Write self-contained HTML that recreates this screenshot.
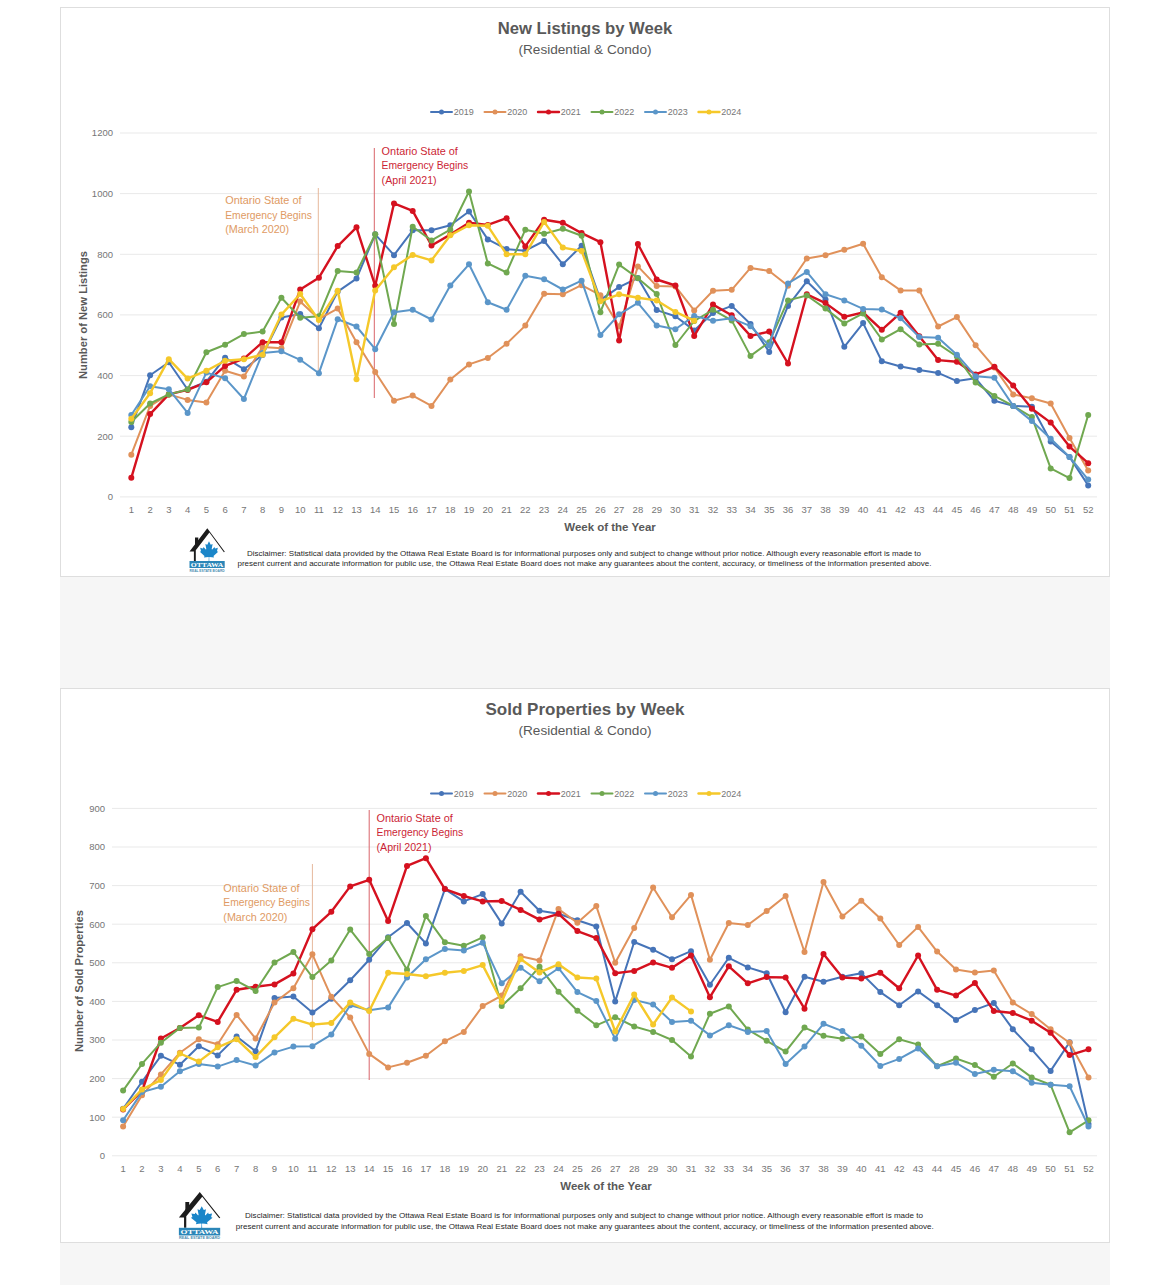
<!DOCTYPE html>
<html><head><meta charset="utf-8"><title>Weekly Charts</title>
<style>
html,body{margin:0;padding:0;background:#fff;}
body{width:1170px;height:1285px;overflow:hidden;font-family:"Liberation Sans",sans-serif;}
svg{display:block;font-family:"Liberation Sans",sans-serif;}
</style></head><body>
<svg width="1170" height="1285" viewBox="0 0 1170 1285">
<rect x="0" y="0" width="1170" height="1285" fill="#ffffff"/>
<rect x="60" y="0" width="1050" height="1285" fill="#f6f6f6"/>
<rect x="60" y="0" width="1050" height="7" fill="#ffffff"/>
<rect x="60.5" y="7.5" width="1049" height="569" fill="#ffffff" stroke="#dedede" stroke-width="1"/>
<rect x="60.5" y="688.5" width="1049" height="554" fill="#ffffff" stroke="#dedede" stroke-width="1"/>
<line x1="120" x2="1097" y1="496.9" y2="496.9" stroke="#e9e9e9" stroke-width="1"/>
<line x1="120" x2="1097" y1="436.2" y2="436.2" stroke="#e9e9e9" stroke-width="1"/>
<line x1="120" x2="1097" y1="375.6" y2="375.6" stroke="#e9e9e9" stroke-width="1"/>
<line x1="120" x2="1097" y1="314.9" y2="314.9" stroke="#e9e9e9" stroke-width="1"/>
<line x1="120" x2="1097" y1="254.3" y2="254.3" stroke="#e9e9e9" stroke-width="1"/>
<line x1="120" x2="1097" y1="193.6" y2="193.6" stroke="#e9e9e9" stroke-width="1"/>
<line x1="120" x2="1097" y1="133.0" y2="133.0" stroke="#e9e9e9" stroke-width="1"/>
<text x="585" y="34" font-size="17" font-weight="bold" fill="#595959" text-anchor="middle" textLength="174.5" lengthAdjust="spacingAndGlyphs">New Listings by Week</text>
<text x="585" y="53.5" font-size="13" fill="#595959" text-anchor="middle" textLength="133" lengthAdjust="spacingAndGlyphs">(Residential &amp; Condo)</text>
<line x1="431" x2="452" y1="112" y2="112" stroke="#4674b8" stroke-width="2.0" stroke-linecap="round"/>
<circle cx="441.5" cy="112" r="2.5" fill="#4674b8"/>
<text x="453.8" y="115.3" font-size="9.8" fill="#767676" textLength="20" lengthAdjust="spacingAndGlyphs">2019</text>
<line x1="484.5" x2="505.5" y1="112" y2="112" stroke="#e0915a" stroke-width="2.0" stroke-linecap="round"/>
<circle cx="495.0" cy="112" r="2.5" fill="#e0915a"/>
<text x="507.3" y="115.3" font-size="9.8" fill="#767676" textLength="20" lengthAdjust="spacingAndGlyphs">2020</text>
<line x1="538" x2="559" y1="112" y2="112" stroke="#d5111f" stroke-width="2.4" stroke-linecap="round"/>
<circle cx="548.5" cy="112" r="2.5" fill="#d5111f"/>
<text x="560.8" y="115.3" font-size="9.8" fill="#767676" textLength="20" lengthAdjust="spacingAndGlyphs">2021</text>
<line x1="591.5" x2="612.5" y1="112" y2="112" stroke="#70a850" stroke-width="2.0" stroke-linecap="round"/>
<circle cx="602.0" cy="112" r="2.5" fill="#70a850"/>
<text x="614.3" y="115.3" font-size="9.8" fill="#767676" textLength="20" lengthAdjust="spacingAndGlyphs">2022</text>
<line x1="645" x2="666" y1="112" y2="112" stroke="#5b96c9" stroke-width="2.0" stroke-linecap="round"/>
<circle cx="655.5" cy="112" r="2.5" fill="#5b96c9"/>
<text x="667.8" y="115.3" font-size="9.8" fill="#767676" textLength="20" lengthAdjust="spacingAndGlyphs">2023</text>
<line x1="698.5" x2="719.5" y1="112" y2="112" stroke="#f5c82a" stroke-width="2.4" stroke-linecap="round"/>
<circle cx="709.0" cy="112" r="2.5" fill="#f5c82a"/>
<text x="721.3" y="115.3" font-size="9.8" fill="#767676" textLength="20" lengthAdjust="spacingAndGlyphs">2024</text>
<text x="113" y="500.2" font-size="9.5" fill="#767676" text-anchor="end">0</text>
<text x="113" y="439.6" font-size="9.5" fill="#767676" text-anchor="end">200</text>
<text x="113" y="378.9" font-size="9.5" fill="#767676" text-anchor="end">400</text>
<text x="113" y="318.2" font-size="9.5" fill="#767676" text-anchor="end">600</text>
<text x="113" y="257.6" font-size="9.5" fill="#767676" text-anchor="end">800</text>
<text x="113" y="196.9" font-size="9.5" fill="#767676" text-anchor="end">1000</text>
<text x="113" y="136.3" font-size="9.5" fill="#767676" text-anchor="end">1200</text>
<text x="131.3" y="512.6" font-size="9.5" fill="#767676" text-anchor="middle">1</text>
<text x="150.1" y="512.6" font-size="9.5" fill="#767676" text-anchor="middle">2</text>
<text x="168.8" y="512.6" font-size="9.5" fill="#767676" text-anchor="middle">3</text>
<text x="187.6" y="512.6" font-size="9.5" fill="#767676" text-anchor="middle">4</text>
<text x="206.4" y="512.6" font-size="9.5" fill="#767676" text-anchor="middle">5</text>
<text x="225.1" y="512.6" font-size="9.5" fill="#767676" text-anchor="middle">6</text>
<text x="243.9" y="512.6" font-size="9.5" fill="#767676" text-anchor="middle">7</text>
<text x="262.6" y="512.6" font-size="9.5" fill="#767676" text-anchor="middle">8</text>
<text x="281.4" y="512.6" font-size="9.5" fill="#767676" text-anchor="middle">9</text>
<text x="300.2" y="512.6" font-size="9.5" fill="#767676" text-anchor="middle">10</text>
<text x="318.9" y="512.6" font-size="9.5" fill="#767676" text-anchor="middle">11</text>
<text x="337.7" y="512.6" font-size="9.5" fill="#767676" text-anchor="middle">12</text>
<text x="356.5" y="512.6" font-size="9.5" fill="#767676" text-anchor="middle">13</text>
<text x="375.2" y="512.6" font-size="9.5" fill="#767676" text-anchor="middle">14</text>
<text x="394.0" y="512.6" font-size="9.5" fill="#767676" text-anchor="middle">15</text>
<text x="412.7" y="512.6" font-size="9.5" fill="#767676" text-anchor="middle">16</text>
<text x="431.5" y="512.6" font-size="9.5" fill="#767676" text-anchor="middle">17</text>
<text x="450.3" y="512.6" font-size="9.5" fill="#767676" text-anchor="middle">18</text>
<text x="469.0" y="512.6" font-size="9.5" fill="#767676" text-anchor="middle">19</text>
<text x="487.8" y="512.6" font-size="9.5" fill="#767676" text-anchor="middle">20</text>
<text x="506.6" y="512.6" font-size="9.5" fill="#767676" text-anchor="middle">21</text>
<text x="525.3" y="512.6" font-size="9.5" fill="#767676" text-anchor="middle">22</text>
<text x="544.1" y="512.6" font-size="9.5" fill="#767676" text-anchor="middle">23</text>
<text x="562.8" y="512.6" font-size="9.5" fill="#767676" text-anchor="middle">24</text>
<text x="581.6" y="512.6" font-size="9.5" fill="#767676" text-anchor="middle">25</text>
<text x="600.4" y="512.6" font-size="9.5" fill="#767676" text-anchor="middle">26</text>
<text x="619.1" y="512.6" font-size="9.5" fill="#767676" text-anchor="middle">27</text>
<text x="637.9" y="512.6" font-size="9.5" fill="#767676" text-anchor="middle">28</text>
<text x="656.7" y="512.6" font-size="9.5" fill="#767676" text-anchor="middle">29</text>
<text x="675.4" y="512.6" font-size="9.5" fill="#767676" text-anchor="middle">30</text>
<text x="694.2" y="512.6" font-size="9.5" fill="#767676" text-anchor="middle">31</text>
<text x="713.0" y="512.6" font-size="9.5" fill="#767676" text-anchor="middle">32</text>
<text x="731.7" y="512.6" font-size="9.5" fill="#767676" text-anchor="middle">33</text>
<text x="750.5" y="512.6" font-size="9.5" fill="#767676" text-anchor="middle">34</text>
<text x="769.2" y="512.6" font-size="9.5" fill="#767676" text-anchor="middle">35</text>
<text x="788.0" y="512.6" font-size="9.5" fill="#767676" text-anchor="middle">36</text>
<text x="806.8" y="512.6" font-size="9.5" fill="#767676" text-anchor="middle">37</text>
<text x="825.5" y="512.6" font-size="9.5" fill="#767676" text-anchor="middle">38</text>
<text x="844.3" y="512.6" font-size="9.5" fill="#767676" text-anchor="middle">39</text>
<text x="863.1" y="512.6" font-size="9.5" fill="#767676" text-anchor="middle">40</text>
<text x="881.8" y="512.6" font-size="9.5" fill="#767676" text-anchor="middle">41</text>
<text x="900.6" y="512.6" font-size="9.5" fill="#767676" text-anchor="middle">42</text>
<text x="919.3" y="512.6" font-size="9.5" fill="#767676" text-anchor="middle">43</text>
<text x="938.1" y="512.6" font-size="9.5" fill="#767676" text-anchor="middle">44</text>
<text x="956.9" y="512.6" font-size="9.5" fill="#767676" text-anchor="middle">45</text>
<text x="975.6" y="512.6" font-size="9.5" fill="#767676" text-anchor="middle">46</text>
<text x="994.4" y="512.6" font-size="9.5" fill="#767676" text-anchor="middle">47</text>
<text x="1013.2" y="512.6" font-size="9.5" fill="#767676" text-anchor="middle">48</text>
<text x="1031.9" y="512.6" font-size="9.5" fill="#767676" text-anchor="middle">49</text>
<text x="1050.7" y="512.6" font-size="9.5" fill="#767676" text-anchor="middle">50</text>
<text x="1069.5" y="512.6" font-size="9.5" fill="#767676" text-anchor="middle">51</text>
<text x="1088.2" y="512.6" font-size="9.5" fill="#767676" text-anchor="middle">52</text>
<text x="610" y="530.6" font-size="11.5" font-weight="bold" fill="#595959" text-anchor="middle" textLength="91.5" lengthAdjust="spacingAndGlyphs">Week of the Year</text>
<text transform="translate(86.5,315) rotate(-90)" font-size="11.5" font-weight="bold" fill="#595959" text-anchor="middle" textLength="128" lengthAdjust="spacingAndGlyphs">Number of New Listings</text>
<line x1="318.3" x2="318.3" y1="188" y2="371" stroke="#e6b89c" stroke-width="1"/>
<line x1="374.3" x2="374.3" y1="148" y2="398" stroke="#d9646a" stroke-width="1"/>
<text x="225.2" y="204.0" font-size="11" fill="#e09a63" textLength="76.3" lengthAdjust="spacingAndGlyphs">Ontario State of</text>
<text x="225.2" y="218.5" font-size="11" fill="#e09a63" textLength="86.6" lengthAdjust="spacingAndGlyphs">Emergency Begins</text>
<text x="225.2" y="233.0" font-size="11" fill="#e09a63" textLength="64" lengthAdjust="spacingAndGlyphs">(March 2020)</text>
<text x="381.6" y="154.5" font-size="11" fill="#cc1f36" textLength="76.3" lengthAdjust="spacingAndGlyphs">Ontario State of</text>
<text x="381.6" y="169.0" font-size="11" fill="#cc1f36" textLength="86.6" lengthAdjust="spacingAndGlyphs">Emergency Begins</text>
<text x="381.6" y="183.5" font-size="11" fill="#cc1f36" textLength="55" lengthAdjust="spacingAndGlyphs">(April 2021)</text>
<polyline fill="none" stroke="#4674b8" stroke-width="2.0" stroke-linejoin="round" stroke-linecap="round" points="131.3,427.2 150.1,375.3 168.8,362.3 187.6,389.5 206.4,381.7 225.1,357.7 243.9,369.2 262.6,355.0 281.4,317.4 300.2,314.0 318.9,328.3 337.7,291.6 356.5,278.6 375.2,234.3 394.0,255.2 412.7,230.3 431.5,230.3 450.3,225.2 469.0,211.5 487.8,239.4 506.6,249.1 525.3,250.7 544.1,241.0 562.8,264.3 581.6,245.8 600.4,299.8 619.1,287.1 637.9,278.0 656.7,310.1 675.4,316.2 694.2,330.4 713.0,313.1 731.7,305.9 750.5,324.0 769.2,351.9 788.0,305.9 806.8,281.3 825.5,299.5 844.3,346.8 863.1,323.1 881.8,361.3 900.6,366.5 919.3,370.1 938.1,372.9 956.9,381.1 975.6,378.3 994.4,400.8 1013.2,405.9 1031.9,406.8 1050.7,441.4 1069.5,456.9 1088.2,485.4"/>
<g fill="#4674b8"><circle cx="131.3" cy="427.2" r="3"/><circle cx="150.1" cy="375.3" r="3"/><circle cx="168.8" cy="362.3" r="3"/><circle cx="187.6" cy="389.5" r="3"/><circle cx="206.4" cy="381.7" r="3"/><circle cx="225.1" cy="357.7" r="3"/><circle cx="243.9" cy="369.2" r="3"/><circle cx="262.6" cy="355.0" r="3"/><circle cx="281.4" cy="317.4" r="3"/><circle cx="300.2" cy="314.0" r="3"/><circle cx="318.9" cy="328.3" r="3"/><circle cx="337.7" cy="291.6" r="3"/><circle cx="356.5" cy="278.6" r="3"/><circle cx="375.2" cy="234.3" r="3"/><circle cx="394.0" cy="255.2" r="3"/><circle cx="412.7" cy="230.3" r="3"/><circle cx="431.5" cy="230.3" r="3"/><circle cx="450.3" cy="225.2" r="3"/><circle cx="469.0" cy="211.5" r="3"/><circle cx="487.8" cy="239.4" r="3"/><circle cx="506.6" cy="249.1" r="3"/><circle cx="525.3" cy="250.7" r="3"/><circle cx="544.1" cy="241.0" r="3"/><circle cx="562.8" cy="264.3" r="3"/><circle cx="581.6" cy="245.8" r="3"/><circle cx="600.4" cy="299.8" r="3"/><circle cx="619.1" cy="287.1" r="3"/><circle cx="637.9" cy="278.0" r="3"/><circle cx="656.7" cy="310.1" r="3"/><circle cx="675.4" cy="316.2" r="3"/><circle cx="694.2" cy="330.4" r="3"/><circle cx="713.0" cy="313.1" r="3"/><circle cx="731.7" cy="305.9" r="3"/><circle cx="750.5" cy="324.0" r="3"/><circle cx="769.2" cy="351.9" r="3"/><circle cx="788.0" cy="305.9" r="3"/><circle cx="806.8" cy="281.3" r="3"/><circle cx="825.5" cy="299.5" r="3"/><circle cx="844.3" cy="346.8" r="3"/><circle cx="863.1" cy="323.1" r="3"/><circle cx="881.8" cy="361.3" r="3"/><circle cx="900.6" cy="366.5" r="3"/><circle cx="919.3" cy="370.1" r="3"/><circle cx="938.1" cy="372.9" r="3"/><circle cx="956.9" cy="381.1" r="3"/><circle cx="975.6" cy="378.3" r="3"/><circle cx="994.4" cy="400.8" r="3"/><circle cx="1013.2" cy="405.9" r="3"/><circle cx="1031.9" cy="406.8" r="3"/><circle cx="1050.7" cy="441.4" r="3"/><circle cx="1069.5" cy="456.9" r="3"/><circle cx="1088.2" cy="485.4" r="3"/></g>
<polyline fill="none" stroke="#e0915a" stroke-width="2.0" stroke-linejoin="round" stroke-linecap="round" points="131.3,454.7 150.1,405.9 168.8,394.4 187.6,399.9 206.4,402.6 225.1,370.7 243.9,376.5 262.6,347.1 281.4,348.3 300.2,301.6 318.9,318.9 337.7,308.6 356.5,342.2 375.2,372.0 394.0,400.8 412.7,395.6 431.5,405.9 450.3,379.5 469.0,364.4 487.8,358.0 506.6,343.8 525.3,325.6 544.1,293.7 562.8,294.3 581.6,285.2 600.4,295.2 619.1,326.5 637.9,266.4 656.7,286.1 675.4,286.4 694.2,310.4 713.0,290.7 731.7,289.8 750.5,267.9 769.2,271.0 788.0,285.8 806.8,258.5 825.5,255.2 844.3,249.8 863.1,243.7 881.8,277.3 900.6,290.4 919.3,290.4 938.1,326.5 956.9,317.1 975.6,345.3 994.4,367.4 1013.2,394.4 1031.9,398.3 1050.7,403.5 1069.5,438.1 1088.2,470.5"/>
<g fill="#e0915a"><circle cx="131.3" cy="454.7" r="3"/><circle cx="150.1" cy="405.9" r="3"/><circle cx="168.8" cy="394.4" r="3"/><circle cx="187.6" cy="399.9" r="3"/><circle cx="206.4" cy="402.6" r="3"/><circle cx="225.1" cy="370.7" r="3"/><circle cx="243.9" cy="376.5" r="3"/><circle cx="262.6" cy="347.1" r="3"/><circle cx="281.4" cy="348.3" r="3"/><circle cx="300.2" cy="301.6" r="3"/><circle cx="318.9" cy="318.9" r="3"/><circle cx="337.7" cy="308.6" r="3"/><circle cx="356.5" cy="342.2" r="3"/><circle cx="375.2" cy="372.0" r="3"/><circle cx="394.0" cy="400.8" r="3"/><circle cx="412.7" cy="395.6" r="3"/><circle cx="431.5" cy="405.9" r="3"/><circle cx="450.3" cy="379.5" r="3"/><circle cx="469.0" cy="364.4" r="3"/><circle cx="487.8" cy="358.0" r="3"/><circle cx="506.6" cy="343.8" r="3"/><circle cx="525.3" cy="325.6" r="3"/><circle cx="544.1" cy="293.7" r="3"/><circle cx="562.8" cy="294.3" r="3"/><circle cx="581.6" cy="285.2" r="3"/><circle cx="600.4" cy="295.2" r="3"/><circle cx="619.1" cy="326.5" r="3"/><circle cx="637.9" cy="266.4" r="3"/><circle cx="656.7" cy="286.1" r="3"/><circle cx="675.4" cy="286.4" r="3"/><circle cx="694.2" cy="310.4" r="3"/><circle cx="713.0" cy="290.7" r="3"/><circle cx="731.7" cy="289.8" r="3"/><circle cx="750.5" cy="267.9" r="3"/><circle cx="769.2" cy="271.0" r="3"/><circle cx="788.0" cy="285.8" r="3"/><circle cx="806.8" cy="258.5" r="3"/><circle cx="825.5" cy="255.2" r="3"/><circle cx="844.3" cy="249.8" r="3"/><circle cx="863.1" cy="243.7" r="3"/><circle cx="881.8" cy="277.3" r="3"/><circle cx="900.6" cy="290.4" r="3"/><circle cx="919.3" cy="290.4" r="3"/><circle cx="938.1" cy="326.5" r="3"/><circle cx="956.9" cy="317.1" r="3"/><circle cx="975.6" cy="345.3" r="3"/><circle cx="994.4" cy="367.4" r="3"/><circle cx="1013.2" cy="394.4" r="3"/><circle cx="1031.9" cy="398.3" r="3"/><circle cx="1050.7" cy="403.5" r="3"/><circle cx="1069.5" cy="438.1" r="3"/><circle cx="1088.2" cy="470.5" r="3"/></g>
<polyline fill="none" stroke="#d5111f" stroke-width="2.4" stroke-linejoin="round" stroke-linecap="round" points="131.3,477.8 150.1,414.1 168.8,394.4 187.6,389.9 206.4,382.3 225.1,365.9 243.9,358.6 262.6,342.2 281.4,342.2 300.2,289.5 318.9,277.7 337.7,246.1 356.5,227.3 375.2,285.8 394.0,203.4 412.7,210.9 431.5,245.5 450.3,234.6 469.0,222.8 487.8,224.9 506.6,218.2 525.3,246.4 544.1,219.7 562.8,222.8 581.6,233.1 600.4,242.2 619.1,340.4 637.9,244.0 656.7,279.5 675.4,285.5 694.2,335.9 713.0,304.6 731.7,315.3 750.5,335.9 769.2,331.6 788.0,363.5 806.8,294.3 825.5,303.1 844.3,316.8 863.1,312.5 881.8,329.8 900.6,312.8 919.3,336.2 938.1,360.1 956.9,361.7 975.6,374.4 994.4,366.8 1013.2,385.6 1031.9,408.7 1050.7,422.6 1069.5,446.6 1088.2,463.2"/>
<g fill="#d5111f"><circle cx="131.3" cy="477.8" r="3"/><circle cx="150.1" cy="414.1" r="3"/><circle cx="168.8" cy="394.4" r="3"/><circle cx="187.6" cy="389.9" r="3"/><circle cx="206.4" cy="382.3" r="3"/><circle cx="225.1" cy="365.9" r="3"/><circle cx="243.9" cy="358.6" r="3"/><circle cx="262.6" cy="342.2" r="3"/><circle cx="281.4" cy="342.2" r="3"/><circle cx="300.2" cy="289.5" r="3"/><circle cx="318.9" cy="277.7" r="3"/><circle cx="337.7" cy="246.1" r="3"/><circle cx="356.5" cy="227.3" r="3"/><circle cx="375.2" cy="285.8" r="3"/><circle cx="394.0" cy="203.4" r="3"/><circle cx="412.7" cy="210.9" r="3"/><circle cx="431.5" cy="245.5" r="3"/><circle cx="450.3" cy="234.6" r="3"/><circle cx="469.0" cy="222.8" r="3"/><circle cx="487.8" cy="224.9" r="3"/><circle cx="506.6" cy="218.2" r="3"/><circle cx="525.3" cy="246.4" r="3"/><circle cx="544.1" cy="219.7" r="3"/><circle cx="562.8" cy="222.8" r="3"/><circle cx="581.6" cy="233.1" r="3"/><circle cx="600.4" cy="242.2" r="3"/><circle cx="619.1" cy="340.4" r="3"/><circle cx="637.9" cy="244.0" r="3"/><circle cx="656.7" cy="279.5" r="3"/><circle cx="675.4" cy="285.5" r="3"/><circle cx="694.2" cy="335.9" r="3"/><circle cx="713.0" cy="304.6" r="3"/><circle cx="731.7" cy="315.3" r="3"/><circle cx="750.5" cy="335.9" r="3"/><circle cx="769.2" cy="331.6" r="3"/><circle cx="788.0" cy="363.5" r="3"/><circle cx="806.8" cy="294.3" r="3"/><circle cx="825.5" cy="303.1" r="3"/><circle cx="844.3" cy="316.8" r="3"/><circle cx="863.1" cy="312.5" r="3"/><circle cx="881.8" cy="329.8" r="3"/><circle cx="900.6" cy="312.8" r="3"/><circle cx="919.3" cy="336.2" r="3"/><circle cx="938.1" cy="360.1" r="3"/><circle cx="956.9" cy="361.7" r="3"/><circle cx="975.6" cy="374.4" r="3"/><circle cx="994.4" cy="366.8" r="3"/><circle cx="1013.2" cy="385.6" r="3"/><circle cx="1031.9" cy="408.7" r="3"/><circle cx="1050.7" cy="422.6" r="3"/><circle cx="1069.5" cy="446.6" r="3"/><circle cx="1088.2" cy="463.2" r="3"/></g>
<polyline fill="none" stroke="#70a850" stroke-width="2.0" stroke-linejoin="round" stroke-linecap="round" points="131.3,422.0 150.1,403.5 168.8,394.4 187.6,389.5 206.4,352.2 225.1,344.7 243.9,334.1 262.6,331.6 281.4,297.7 300.2,317.7 318.9,316.2 337.7,271.0 356.5,272.5 375.2,234.3 394.0,324.0 412.7,226.7 431.5,240.4 450.3,229.7 469.0,191.5 487.8,263.4 506.6,272.5 525.3,229.7 544.1,233.7 562.8,228.8 581.6,235.8 600.4,312.2 619.1,264.6 637.9,278.3 656.7,294.0 675.4,345.0 694.2,321.0 713.0,309.8 731.7,320.4 750.5,355.9 769.2,342.2 788.0,300.4 806.8,295.5 825.5,308.6 844.3,323.4 863.1,313.4 881.8,339.5 900.6,329.2 919.3,344.4 938.1,343.8 956.9,356.5 975.6,382.6 994.4,395.9 1013.2,405.9 1031.9,417.1 1050.7,468.4 1069.5,478.1 1088.2,415.0"/>
<g fill="#70a850"><circle cx="131.3" cy="422.0" r="3"/><circle cx="150.1" cy="403.5" r="3"/><circle cx="168.8" cy="394.4" r="3"/><circle cx="187.6" cy="389.5" r="3"/><circle cx="206.4" cy="352.2" r="3"/><circle cx="225.1" cy="344.7" r="3"/><circle cx="243.9" cy="334.1" r="3"/><circle cx="262.6" cy="331.6" r="3"/><circle cx="281.4" cy="297.7" r="3"/><circle cx="300.2" cy="317.7" r="3"/><circle cx="318.9" cy="316.2" r="3"/><circle cx="337.7" cy="271.0" r="3"/><circle cx="356.5" cy="272.5" r="3"/><circle cx="375.2" cy="234.3" r="3"/><circle cx="394.0" cy="324.0" r="3"/><circle cx="412.7" cy="226.7" r="3"/><circle cx="431.5" cy="240.4" r="3"/><circle cx="450.3" cy="229.7" r="3"/><circle cx="469.0" cy="191.5" r="3"/><circle cx="487.8" cy="263.4" r="3"/><circle cx="506.6" cy="272.5" r="3"/><circle cx="525.3" cy="229.7" r="3"/><circle cx="544.1" cy="233.7" r="3"/><circle cx="562.8" cy="228.8" r="3"/><circle cx="581.6" cy="235.8" r="3"/><circle cx="600.4" cy="312.2" r="3"/><circle cx="619.1" cy="264.6" r="3"/><circle cx="637.9" cy="278.3" r="3"/><circle cx="656.7" cy="294.0" r="3"/><circle cx="675.4" cy="345.0" r="3"/><circle cx="694.2" cy="321.0" r="3"/><circle cx="713.0" cy="309.8" r="3"/><circle cx="731.7" cy="320.4" r="3"/><circle cx="750.5" cy="355.9" r="3"/><circle cx="769.2" cy="342.2" r="3"/><circle cx="788.0" cy="300.4" r="3"/><circle cx="806.8" cy="295.5" r="3"/><circle cx="825.5" cy="308.6" r="3"/><circle cx="844.3" cy="323.4" r="3"/><circle cx="863.1" cy="313.4" r="3"/><circle cx="881.8" cy="339.5" r="3"/><circle cx="900.6" cy="329.2" r="3"/><circle cx="919.3" cy="344.4" r="3"/><circle cx="938.1" cy="343.8" r="3"/><circle cx="956.9" cy="356.5" r="3"/><circle cx="975.6" cy="382.6" r="3"/><circle cx="994.4" cy="395.9" r="3"/><circle cx="1013.2" cy="405.9" r="3"/><circle cx="1031.9" cy="417.1" r="3"/><circle cx="1050.7" cy="468.4" r="3"/><circle cx="1069.5" cy="478.1" r="3"/><circle cx="1088.2" cy="415.0" r="3"/></g>
<polyline fill="none" stroke="#5b96c9" stroke-width="2.0" stroke-linejoin="round" stroke-linecap="round" points="131.3,415.0 150.1,386.2 168.8,389.2 187.6,412.9 206.4,372.6 225.1,378.3 243.9,399.0 262.6,352.9 281.4,351.3 300.2,359.8 318.9,373.2 337.7,319.2 356.5,326.5 375.2,349.2 394.0,312.2 412.7,309.8 431.5,319.5 450.3,285.5 469.0,264.3 487.8,302.2 506.6,309.8 525.3,275.8 544.1,279.2 562.8,289.5 581.6,280.7 600.4,335.0 619.1,314.3 637.9,302.8 656.7,325.6 675.4,329.2 694.2,315.9 713.0,320.7 731.7,318.3 750.5,326.2 769.2,345.6 788.0,283.4 806.8,271.9 825.5,294.3 844.3,300.4 863.1,308.9 881.8,309.5 900.6,318.3 919.3,337.1 938.1,337.7 956.9,354.7 975.6,376.2 994.4,377.7 1013.2,405.9 1031.9,421.1 1050.7,438.7 1069.5,456.9 1088.2,479.6"/>
<g fill="#5b96c9"><circle cx="131.3" cy="415.0" r="3"/><circle cx="150.1" cy="386.2" r="3"/><circle cx="168.8" cy="389.2" r="3"/><circle cx="187.6" cy="412.9" r="3"/><circle cx="206.4" cy="372.6" r="3"/><circle cx="225.1" cy="378.3" r="3"/><circle cx="243.9" cy="399.0" r="3"/><circle cx="262.6" cy="352.9" r="3"/><circle cx="281.4" cy="351.3" r="3"/><circle cx="300.2" cy="359.8" r="3"/><circle cx="318.9" cy="373.2" r="3"/><circle cx="337.7" cy="319.2" r="3"/><circle cx="356.5" cy="326.5" r="3"/><circle cx="375.2" cy="349.2" r="3"/><circle cx="394.0" cy="312.2" r="3"/><circle cx="412.7" cy="309.8" r="3"/><circle cx="431.5" cy="319.5" r="3"/><circle cx="450.3" cy="285.5" r="3"/><circle cx="469.0" cy="264.3" r="3"/><circle cx="487.8" cy="302.2" r="3"/><circle cx="506.6" cy="309.8" r="3"/><circle cx="525.3" cy="275.8" r="3"/><circle cx="544.1" cy="279.2" r="3"/><circle cx="562.8" cy="289.5" r="3"/><circle cx="581.6" cy="280.7" r="3"/><circle cx="600.4" cy="335.0" r="3"/><circle cx="619.1" cy="314.3" r="3"/><circle cx="637.9" cy="302.8" r="3"/><circle cx="656.7" cy="325.6" r="3"/><circle cx="675.4" cy="329.2" r="3"/><circle cx="694.2" cy="315.9" r="3"/><circle cx="713.0" cy="320.7" r="3"/><circle cx="731.7" cy="318.3" r="3"/><circle cx="750.5" cy="326.2" r="3"/><circle cx="769.2" cy="345.6" r="3"/><circle cx="788.0" cy="283.4" r="3"/><circle cx="806.8" cy="271.9" r="3"/><circle cx="825.5" cy="294.3" r="3"/><circle cx="844.3" cy="300.4" r="3"/><circle cx="863.1" cy="308.9" r="3"/><circle cx="881.8" cy="309.5" r="3"/><circle cx="900.6" cy="318.3" r="3"/><circle cx="919.3" cy="337.1" r="3"/><circle cx="938.1" cy="337.7" r="3"/><circle cx="956.9" cy="354.7" r="3"/><circle cx="975.6" cy="376.2" r="3"/><circle cx="994.4" cy="377.7" r="3"/><circle cx="1013.2" cy="405.9" r="3"/><circle cx="1031.9" cy="421.1" r="3"/><circle cx="1050.7" cy="438.7" r="3"/><circle cx="1069.5" cy="456.9" r="3"/><circle cx="1088.2" cy="479.6" r="3"/></g>
<polyline fill="none" stroke="#f5c82a" stroke-width="2.4" stroke-linejoin="round" stroke-linecap="round" points="131.3,418.7 150.1,393.2 168.8,359.2 187.6,378.6 206.4,370.7 225.1,360.7 243.9,359.2 262.6,354.7 281.4,314.6 300.2,294.0 318.9,320.1 337.7,290.7 356.5,379.2 375.2,290.4 394.0,267.3 412.7,254.9 431.5,260.4 450.3,235.2 469.0,225.2 487.8,225.8 506.6,254.3 525.3,254.3 544.1,221.9 562.8,247.6 581.6,251.0 600.4,301.3 619.1,294.3 637.9,297.7 656.7,300.4 675.4,311.9 694.2,320.7"/>
<g fill="#f5c82a"><circle cx="131.3" cy="418.7" r="3"/><circle cx="150.1" cy="393.2" r="3"/><circle cx="168.8" cy="359.2" r="3"/><circle cx="187.6" cy="378.6" r="3"/><circle cx="206.4" cy="370.7" r="3"/><circle cx="225.1" cy="360.7" r="3"/><circle cx="243.9" cy="359.2" r="3"/><circle cx="262.6" cy="354.7" r="3"/><circle cx="281.4" cy="314.6" r="3"/><circle cx="300.2" cy="294.0" r="3"/><circle cx="318.9" cy="320.1" r="3"/><circle cx="337.7" cy="290.7" r="3"/><circle cx="356.5" cy="379.2" r="3"/><circle cx="375.2" cy="290.4" r="3"/><circle cx="394.0" cy="267.3" r="3"/><circle cx="412.7" cy="254.9" r="3"/><circle cx="431.5" cy="260.4" r="3"/><circle cx="450.3" cy="235.2" r="3"/><circle cx="469.0" cy="225.2" r="3"/><circle cx="487.8" cy="225.8" r="3"/><circle cx="506.6" cy="254.3" r="3"/><circle cx="525.3" cy="254.3" r="3"/><circle cx="544.1" cy="221.9" r="3"/><circle cx="562.8" cy="247.6" r="3"/><circle cx="581.6" cy="251.0" r="3"/><circle cx="600.4" cy="301.3" r="3"/><circle cx="619.1" cy="294.3" r="3"/><circle cx="637.9" cy="297.7" r="3"/><circle cx="656.7" cy="300.4" r="3"/><circle cx="675.4" cy="311.9" r="3"/><circle cx="694.2" cy="320.7" r="3"/></g>
<g transform="">
<path d="M207.3 528.2 L189.5 551.5 L193.9 551.5 L193.9 561 L195.8 561 L195.8 550.3 L209.4 532.5 L223.9 552.2 L224.8 551.8 Z" fill="#1c1c1c"/>
<path d="M195 537.4 H198.3 V544 L195 548 Z" fill="#1c1c1c"/>
<path transform="translate(185.38,539.7) scale(0.00492,0.0052)" d="M 4800,300 l -327,610 c -37,66 -104,60 -170,23 l -237,-123 177,937 c 37,171 -82,171 -141,97 l -413,-463 -67,235 c -8,31 -42,63 -93,56 l -523,-110 137,499 c 29,111 52,157 -30,186 l -186,88 900,731 c 36,28 54,78 41,123 l -79,258 c 310,-36 588,-89 898,-123 27,-3 73,42 73,74 l -41,947 h 151 l -24,-945 c 0,-32 42,-79 69,-76 310,34 588,87 898,123 l -79,-258 c -13,-45 5,-95 41,-123 l 900,-731 -186,-88 c -82,-29 -59,-75 -30,-186 l 137,-499 -523,110 c -51,7 -85,-25 -93,-56 l -67,-235 -413,463 c -59,74 -178,74 -141,-97 l 177,-937 -237,123 c -66,37 -133,43 -170,-23 z" fill="#1b86c9"/>
<rect x="189.5" y="561" width="35.2" height="7" fill="#2b86b8"/>
<text x="207.1" y="566.9" font-size="6.4" font-weight="bold" fill="#fff" text-anchor="middle" textLength="32.5" lengthAdjust="spacingAndGlyphs" font-family="Liberation Serif, serif">OTTAWA</text>
<text x="207.1" y="571.6" font-size="3" font-weight="bold" fill="#4b8cb0" text-anchor="middle" textLength="35" lengthAdjust="spacingAndGlyphs">REAL ESTATE BOARD</text>
</g>
<text x="584" y="555.6" font-size="7.8" fill="#262626" text-anchor="middle" textLength="674" lengthAdjust="spacingAndGlyphs">Disclaimer: Statistical data provided by the Ottawa Real Estate Board is for informational purposes only and subject to change without prior notice. Although every reasonable effort is made to</text>
<text x="584.5" y="566.2" font-size="7.8" fill="#262626" text-anchor="middle" textLength="694" lengthAdjust="spacingAndGlyphs">present current and accurate information for public use, the Ottawa Real Estate Board does not make any guarantees about the content, accuracy, or timeliness of the information presented above.</text>
<line x1="112" x2="1097" y1="1155.8" y2="1155.8" stroke="#e9e9e9" stroke-width="1"/>
<line x1="112" x2="1097" y1="1117.2" y2="1117.2" stroke="#e9e9e9" stroke-width="1"/>
<line x1="112" x2="1097" y1="1078.6" y2="1078.6" stroke="#e9e9e9" stroke-width="1"/>
<line x1="112" x2="1097" y1="1040.0" y2="1040.0" stroke="#e9e9e9" stroke-width="1"/>
<line x1="112" x2="1097" y1="1001.4" y2="1001.4" stroke="#e9e9e9" stroke-width="1"/>
<line x1="112" x2="1097" y1="962.8" y2="962.8" stroke="#e9e9e9" stroke-width="1"/>
<line x1="112" x2="1097" y1="924.2" y2="924.2" stroke="#e9e9e9" stroke-width="1"/>
<line x1="112" x2="1097" y1="885.6" y2="885.6" stroke="#e9e9e9" stroke-width="1"/>
<line x1="112" x2="1097" y1="847.0" y2="847.0" stroke="#e9e9e9" stroke-width="1"/>
<line x1="112" x2="1097" y1="808.4" y2="808.4" stroke="#e9e9e9" stroke-width="1"/>
<text x="585" y="715" font-size="17" font-weight="bold" fill="#595959" text-anchor="middle" textLength="199" lengthAdjust="spacingAndGlyphs">Sold Properties by Week</text>
<text x="585" y="734.5" font-size="13" fill="#595959" text-anchor="middle" textLength="133" lengthAdjust="spacingAndGlyphs">(Residential &amp; Condo)</text>
<line x1="431" x2="452" y1="793.5" y2="793.5" stroke="#4674b8" stroke-width="2.0" stroke-linecap="round"/>
<circle cx="441.5" cy="793.5" r="2.5" fill="#4674b8"/>
<text x="453.8" y="796.8" font-size="9.8" fill="#767676" textLength="20" lengthAdjust="spacingAndGlyphs">2019</text>
<line x1="484.5" x2="505.5" y1="793.5" y2="793.5" stroke="#e0915a" stroke-width="2.0" stroke-linecap="round"/>
<circle cx="495.0" cy="793.5" r="2.5" fill="#e0915a"/>
<text x="507.3" y="796.8" font-size="9.8" fill="#767676" textLength="20" lengthAdjust="spacingAndGlyphs">2020</text>
<line x1="538" x2="559" y1="793.5" y2="793.5" stroke="#d5111f" stroke-width="2.4" stroke-linecap="round"/>
<circle cx="548.5" cy="793.5" r="2.5" fill="#d5111f"/>
<text x="560.8" y="796.8" font-size="9.8" fill="#767676" textLength="20" lengthAdjust="spacingAndGlyphs">2021</text>
<line x1="591.5" x2="612.5" y1="793.5" y2="793.5" stroke="#70a850" stroke-width="2.0" stroke-linecap="round"/>
<circle cx="602.0" cy="793.5" r="2.5" fill="#70a850"/>
<text x="614.3" y="796.8" font-size="9.8" fill="#767676" textLength="20" lengthAdjust="spacingAndGlyphs">2022</text>
<line x1="645" x2="666" y1="793.5" y2="793.5" stroke="#5b96c9" stroke-width="2.0" stroke-linecap="round"/>
<circle cx="655.5" cy="793.5" r="2.5" fill="#5b96c9"/>
<text x="667.8" y="796.8" font-size="9.8" fill="#767676" textLength="20" lengthAdjust="spacingAndGlyphs">2023</text>
<line x1="698.5" x2="719.5" y1="793.5" y2="793.5" stroke="#f5c82a" stroke-width="2.4" stroke-linecap="round"/>
<circle cx="709.0" cy="793.5" r="2.5" fill="#f5c82a"/>
<text x="721.3" y="796.8" font-size="9.8" fill="#767676" textLength="20" lengthAdjust="spacingAndGlyphs">2024</text>
<text x="105" y="1159.1" font-size="9.5" fill="#767676" text-anchor="end">0</text>
<text x="105" y="1120.5" font-size="9.5" fill="#767676" text-anchor="end">100</text>
<text x="105" y="1081.9" font-size="9.5" fill="#767676" text-anchor="end">200</text>
<text x="105" y="1043.3" font-size="9.5" fill="#767676" text-anchor="end">300</text>
<text x="105" y="1004.7" font-size="9.5" fill="#767676" text-anchor="end">400</text>
<text x="105" y="966.1" font-size="9.5" fill="#767676" text-anchor="end">500</text>
<text x="105" y="927.5" font-size="9.5" fill="#767676" text-anchor="end">600</text>
<text x="105" y="888.9" font-size="9.5" fill="#767676" text-anchor="end">700</text>
<text x="105" y="850.3" font-size="9.5" fill="#767676" text-anchor="end">800</text>
<text x="105" y="811.7" font-size="9.5" fill="#767676" text-anchor="end">900</text>
<text x="123.1" y="1171.6" font-size="9.5" fill="#767676" text-anchor="middle">1</text>
<text x="142.0" y="1171.6" font-size="9.5" fill="#767676" text-anchor="middle">2</text>
<text x="160.9" y="1171.6" font-size="9.5" fill="#767676" text-anchor="middle">3</text>
<text x="179.9" y="1171.6" font-size="9.5" fill="#767676" text-anchor="middle">4</text>
<text x="198.8" y="1171.6" font-size="9.5" fill="#767676" text-anchor="middle">5</text>
<text x="217.7" y="1171.6" font-size="9.5" fill="#767676" text-anchor="middle">6</text>
<text x="236.6" y="1171.6" font-size="9.5" fill="#767676" text-anchor="middle">7</text>
<text x="255.6" y="1171.6" font-size="9.5" fill="#767676" text-anchor="middle">8</text>
<text x="274.5" y="1171.6" font-size="9.5" fill="#767676" text-anchor="middle">9</text>
<text x="293.4" y="1171.6" font-size="9.5" fill="#767676" text-anchor="middle">10</text>
<text x="312.4" y="1171.6" font-size="9.5" fill="#767676" text-anchor="middle">11</text>
<text x="331.3" y="1171.6" font-size="9.5" fill="#767676" text-anchor="middle">12</text>
<text x="350.2" y="1171.6" font-size="9.5" fill="#767676" text-anchor="middle">13</text>
<text x="369.2" y="1171.6" font-size="9.5" fill="#767676" text-anchor="middle">14</text>
<text x="388.1" y="1171.6" font-size="9.5" fill="#767676" text-anchor="middle">15</text>
<text x="407.0" y="1171.6" font-size="9.5" fill="#767676" text-anchor="middle">16</text>
<text x="425.9" y="1171.6" font-size="9.5" fill="#767676" text-anchor="middle">17</text>
<text x="444.9" y="1171.6" font-size="9.5" fill="#767676" text-anchor="middle">18</text>
<text x="463.8" y="1171.6" font-size="9.5" fill="#767676" text-anchor="middle">19</text>
<text x="482.7" y="1171.6" font-size="9.5" fill="#767676" text-anchor="middle">20</text>
<text x="501.7" y="1171.6" font-size="9.5" fill="#767676" text-anchor="middle">21</text>
<text x="520.6" y="1171.6" font-size="9.5" fill="#767676" text-anchor="middle">22</text>
<text x="539.5" y="1171.6" font-size="9.5" fill="#767676" text-anchor="middle">23</text>
<text x="558.5" y="1171.6" font-size="9.5" fill="#767676" text-anchor="middle">24</text>
<text x="577.4" y="1171.6" font-size="9.5" fill="#767676" text-anchor="middle">25</text>
<text x="596.3" y="1171.6" font-size="9.5" fill="#767676" text-anchor="middle">26</text>
<text x="615.2" y="1171.6" font-size="9.5" fill="#767676" text-anchor="middle">27</text>
<text x="634.2" y="1171.6" font-size="9.5" fill="#767676" text-anchor="middle">28</text>
<text x="653.1" y="1171.6" font-size="9.5" fill="#767676" text-anchor="middle">29</text>
<text x="672.0" y="1171.6" font-size="9.5" fill="#767676" text-anchor="middle">30</text>
<text x="691.0" y="1171.6" font-size="9.5" fill="#767676" text-anchor="middle">31</text>
<text x="709.9" y="1171.6" font-size="9.5" fill="#767676" text-anchor="middle">32</text>
<text x="728.8" y="1171.6" font-size="9.5" fill="#767676" text-anchor="middle">33</text>
<text x="747.8" y="1171.6" font-size="9.5" fill="#767676" text-anchor="middle">34</text>
<text x="766.7" y="1171.6" font-size="9.5" fill="#767676" text-anchor="middle">35</text>
<text x="785.6" y="1171.6" font-size="9.5" fill="#767676" text-anchor="middle">36</text>
<text x="804.5" y="1171.6" font-size="9.5" fill="#767676" text-anchor="middle">37</text>
<text x="823.5" y="1171.6" font-size="9.5" fill="#767676" text-anchor="middle">38</text>
<text x="842.4" y="1171.6" font-size="9.5" fill="#767676" text-anchor="middle">39</text>
<text x="861.3" y="1171.6" font-size="9.5" fill="#767676" text-anchor="middle">40</text>
<text x="880.3" y="1171.6" font-size="9.5" fill="#767676" text-anchor="middle">41</text>
<text x="899.2" y="1171.6" font-size="9.5" fill="#767676" text-anchor="middle">42</text>
<text x="918.1" y="1171.6" font-size="9.5" fill="#767676" text-anchor="middle">43</text>
<text x="937.1" y="1171.6" font-size="9.5" fill="#767676" text-anchor="middle">44</text>
<text x="956.0" y="1171.6" font-size="9.5" fill="#767676" text-anchor="middle">45</text>
<text x="974.9" y="1171.6" font-size="9.5" fill="#767676" text-anchor="middle">46</text>
<text x="993.8" y="1171.6" font-size="9.5" fill="#767676" text-anchor="middle">47</text>
<text x="1012.8" y="1171.6" font-size="9.5" fill="#767676" text-anchor="middle">48</text>
<text x="1031.7" y="1171.6" font-size="9.5" fill="#767676" text-anchor="middle">49</text>
<text x="1050.6" y="1171.6" font-size="9.5" fill="#767676" text-anchor="middle">50</text>
<text x="1069.6" y="1171.6" font-size="9.5" fill="#767676" text-anchor="middle">51</text>
<text x="1088.5" y="1171.6" font-size="9.5" fill="#767676" text-anchor="middle">52</text>
<text x="606" y="1189.6" font-size="11.5" font-weight="bold" fill="#595959" text-anchor="middle" textLength="91.5" lengthAdjust="spacingAndGlyphs">Week of the Year</text>
<text transform="translate(82.5,981) rotate(-90)" font-size="11.5" font-weight="bold" fill="#595959" text-anchor="middle" textLength="142" lengthAdjust="spacingAndGlyphs">Number of Sold Properties</text>
<line x1="312.4" x2="312.4" y1="864" y2="1040" stroke="#e6b89c" stroke-width="1"/>
<line x1="369.2" x2="369.2" y1="810" y2="1080" stroke="#d9646a" stroke-width="1"/>
<text x="223.3" y="891.5" font-size="11" fill="#e09a63" textLength="76.3" lengthAdjust="spacingAndGlyphs">Ontario State of</text>
<text x="223.3" y="906.0" font-size="11" fill="#e09a63" textLength="86.6" lengthAdjust="spacingAndGlyphs">Emergency Begins</text>
<text x="223.3" y="920.5" font-size="11" fill="#e09a63" textLength="64" lengthAdjust="spacingAndGlyphs">(March 2020)</text>
<text x="376.5" y="821.5" font-size="11" fill="#cc1f36" textLength="76.3" lengthAdjust="spacingAndGlyphs">Ontario State of</text>
<text x="376.5" y="836.0" font-size="11" fill="#cc1f36" textLength="86.6" lengthAdjust="spacingAndGlyphs">Emergency Begins</text>
<text x="376.5" y="850.5" font-size="11" fill="#cc1f36" textLength="55" lengthAdjust="spacingAndGlyphs">(April 2021)</text>
<polyline fill="none" stroke="#4674b8" stroke-width="2.0" stroke-linejoin="round" stroke-linecap="round" points="123.1,1108.7 142.0,1081.7 160.9,1055.8 179.9,1064.7 198.8,1046.2 217.7,1055.4 236.6,1036.5 255.6,1051.2 274.5,997.9 293.4,996.4 312.4,1012.6 331.3,998.7 350.2,980.2 369.2,959.7 388.1,937.3 407.0,923.0 425.9,943.5 444.9,889.1 463.8,901.4 482.7,894.1 501.7,923.4 520.6,891.8 539.5,910.7 558.5,913.8 577.4,920.3 596.3,926.5 615.2,1001.4 634.2,942.0 653.1,949.7 672.0,959.3 691.0,951.2 709.9,984.8 728.8,957.8 747.8,967.4 766.7,973.2 785.6,1012.2 804.5,976.7 823.5,981.7 842.4,976.7 861.3,973.2 880.3,992.1 899.2,1005.3 918.1,991.4 937.1,1005.3 956.0,1019.9 974.9,1009.9 993.8,1002.9 1012.8,1029.2 1031.7,1049.3 1050.6,1070.9 1069.6,1042.3 1088.5,1124.1"/>
<g fill="#4674b8"><circle cx="123.1" cy="1108.7" r="3"/><circle cx="142.0" cy="1081.7" r="3"/><circle cx="160.9" cy="1055.8" r="3"/><circle cx="179.9" cy="1064.7" r="3"/><circle cx="198.8" cy="1046.2" r="3"/><circle cx="217.7" cy="1055.4" r="3"/><circle cx="236.6" cy="1036.5" r="3"/><circle cx="255.6" cy="1051.2" r="3"/><circle cx="274.5" cy="997.9" r="3"/><circle cx="293.4" cy="996.4" r="3"/><circle cx="312.4" cy="1012.6" r="3"/><circle cx="331.3" cy="998.7" r="3"/><circle cx="350.2" cy="980.2" r="3"/><circle cx="369.2" cy="959.7" r="3"/><circle cx="388.1" cy="937.3" r="3"/><circle cx="407.0" cy="923.0" r="3"/><circle cx="425.9" cy="943.5" r="3"/><circle cx="444.9" cy="889.1" r="3"/><circle cx="463.8" cy="901.4" r="3"/><circle cx="482.7" cy="894.1" r="3"/><circle cx="501.7" cy="923.4" r="3"/><circle cx="520.6" cy="891.8" r="3"/><circle cx="539.5" cy="910.7" r="3"/><circle cx="558.5" cy="913.8" r="3"/><circle cx="577.4" cy="920.3" r="3"/><circle cx="596.3" cy="926.5" r="3"/><circle cx="615.2" cy="1001.4" r="3"/><circle cx="634.2" cy="942.0" r="3"/><circle cx="653.1" cy="949.7" r="3"/><circle cx="672.0" cy="959.3" r="3"/><circle cx="691.0" cy="951.2" r="3"/><circle cx="709.9" cy="984.8" r="3"/><circle cx="728.8" cy="957.8" r="3"/><circle cx="747.8" cy="967.4" r="3"/><circle cx="766.7" cy="973.2" r="3"/><circle cx="785.6" cy="1012.2" r="3"/><circle cx="804.5" cy="976.7" r="3"/><circle cx="823.5" cy="981.7" r="3"/><circle cx="842.4" cy="976.7" r="3"/><circle cx="861.3" cy="973.2" r="3"/><circle cx="880.3" cy="992.1" r="3"/><circle cx="899.2" cy="1005.3" r="3"/><circle cx="918.1" cy="991.4" r="3"/><circle cx="937.1" cy="1005.3" r="3"/><circle cx="956.0" cy="1019.9" r="3"/><circle cx="974.9" cy="1009.9" r="3"/><circle cx="993.8" cy="1002.9" r="3"/><circle cx="1012.8" cy="1029.2" r="3"/><circle cx="1031.7" cy="1049.3" r="3"/><circle cx="1050.6" cy="1070.9" r="3"/><circle cx="1069.6" cy="1042.3" r="3"/><circle cx="1088.5" cy="1124.1" r="3"/></g>
<polyline fill="none" stroke="#e0915a" stroke-width="2.0" stroke-linejoin="round" stroke-linecap="round" points="123.1,1126.5 142.0,1095.2 160.9,1074.4 179.9,1052.7 198.8,1039.2 217.7,1044.2 236.6,1014.9 255.6,1038.5 274.5,1002.6 293.4,988.3 312.4,954.3 331.3,996.8 350.2,1017.6 369.2,1053.9 388.1,1067.4 407.0,1062.8 425.9,1055.8 444.9,1041.2 463.8,1031.9 482.7,1006.0 501.7,995.6 520.6,956.2 539.5,960.5 558.5,909.1 577.4,922.7 596.3,906.1 615.2,962.8 634.2,928.1 653.1,887.5 672.0,917.3 691.0,894.9 709.9,959.7 728.8,923.0 747.8,925.0 766.7,911.1 785.6,896.0 804.5,952.0 823.5,882.1 842.4,916.5 861.3,900.7 880.3,918.4 899.2,945.0 918.1,926.9 937.1,951.6 956.0,969.4 974.9,972.4 993.8,970.5 1012.8,1002.6 1031.7,1014.1 1050.6,1029.2 1069.6,1042.7 1088.5,1077.4"/>
<g fill="#e0915a"><circle cx="123.1" cy="1126.5" r="3"/><circle cx="142.0" cy="1095.2" r="3"/><circle cx="160.9" cy="1074.4" r="3"/><circle cx="179.9" cy="1052.7" r="3"/><circle cx="198.8" cy="1039.2" r="3"/><circle cx="217.7" cy="1044.2" r="3"/><circle cx="236.6" cy="1014.9" r="3"/><circle cx="255.6" cy="1038.5" r="3"/><circle cx="274.5" cy="1002.6" r="3"/><circle cx="293.4" cy="988.3" r="3"/><circle cx="312.4" cy="954.3" r="3"/><circle cx="331.3" cy="996.8" r="3"/><circle cx="350.2" cy="1017.6" r="3"/><circle cx="369.2" cy="1053.9" r="3"/><circle cx="388.1" cy="1067.4" r="3"/><circle cx="407.0" cy="1062.8" r="3"/><circle cx="425.9" cy="1055.8" r="3"/><circle cx="444.9" cy="1041.2" r="3"/><circle cx="463.8" cy="1031.9" r="3"/><circle cx="482.7" cy="1006.0" r="3"/><circle cx="501.7" cy="995.6" r="3"/><circle cx="520.6" cy="956.2" r="3"/><circle cx="539.5" cy="960.5" r="3"/><circle cx="558.5" cy="909.1" r="3"/><circle cx="577.4" cy="922.7" r="3"/><circle cx="596.3" cy="906.1" r="3"/><circle cx="615.2" cy="962.8" r="3"/><circle cx="634.2" cy="928.1" r="3"/><circle cx="653.1" cy="887.5" r="3"/><circle cx="672.0" cy="917.3" r="3"/><circle cx="691.0" cy="894.9" r="3"/><circle cx="709.9" cy="959.7" r="3"/><circle cx="728.8" cy="923.0" r="3"/><circle cx="747.8" cy="925.0" r="3"/><circle cx="766.7" cy="911.1" r="3"/><circle cx="785.6" cy="896.0" r="3"/><circle cx="804.5" cy="952.0" r="3"/><circle cx="823.5" cy="882.1" r="3"/><circle cx="842.4" cy="916.5" r="3"/><circle cx="861.3" cy="900.7" r="3"/><circle cx="880.3" cy="918.4" r="3"/><circle cx="899.2" cy="945.0" r="3"/><circle cx="918.1" cy="926.9" r="3"/><circle cx="937.1" cy="951.6" r="3"/><circle cx="956.0" cy="969.4" r="3"/><circle cx="974.9" cy="972.4" r="3"/><circle cx="993.8" cy="970.5" r="3"/><circle cx="1012.8" cy="1002.6" r="3"/><circle cx="1031.7" cy="1014.1" r="3"/><circle cx="1050.6" cy="1029.2" r="3"/><circle cx="1069.6" cy="1042.7" r="3"/><circle cx="1088.5" cy="1077.4" r="3"/></g>
<polyline fill="none" stroke="#d5111f" stroke-width="2.4" stroke-linejoin="round" stroke-linecap="round" points="123.1,1109.5 142.0,1091.0 160.9,1038.5 179.9,1028.0 198.8,1015.3 217.7,1021.9 236.6,989.8 255.6,986.7 274.5,984.4 293.4,973.6 312.4,929.2 331.3,911.8 350.2,886.4 369.2,879.8 388.1,921.1 407.0,865.9 425.9,858.2 444.9,889.1 463.8,896.0 482.7,901.4 501.7,901.0 520.6,909.9 539.5,919.6 558.5,913.8 577.4,931.1 596.3,938.1 615.2,973.2 634.2,970.9 653.1,962.4 672.0,967.8 691.0,955.5 709.9,997.2 728.8,966.3 747.8,983.3 766.7,977.1 785.6,977.5 804.5,1008.7 823.5,953.9 842.4,977.5 861.3,978.6 880.3,972.8 899.2,988.3 918.1,955.5 937.1,989.8 956.0,995.6 974.9,982.9 993.8,1011.0 1012.8,1013.0 1031.7,1020.7 1050.6,1032.7 1069.6,1055.1 1088.5,1049.3"/>
<g fill="#d5111f"><circle cx="123.1" cy="1109.5" r="3"/><circle cx="142.0" cy="1091.0" r="3"/><circle cx="160.9" cy="1038.5" r="3"/><circle cx="179.9" cy="1028.0" r="3"/><circle cx="198.8" cy="1015.3" r="3"/><circle cx="217.7" cy="1021.9" r="3"/><circle cx="236.6" cy="989.8" r="3"/><circle cx="255.6" cy="986.7" r="3"/><circle cx="274.5" cy="984.4" r="3"/><circle cx="293.4" cy="973.6" r="3"/><circle cx="312.4" cy="929.2" r="3"/><circle cx="331.3" cy="911.8" r="3"/><circle cx="350.2" cy="886.4" r="3"/><circle cx="369.2" cy="879.8" r="3"/><circle cx="388.1" cy="921.1" r="3"/><circle cx="407.0" cy="865.9" r="3"/><circle cx="425.9" cy="858.2" r="3"/><circle cx="444.9" cy="889.1" r="3"/><circle cx="463.8" cy="896.0" r="3"/><circle cx="482.7" cy="901.4" r="3"/><circle cx="501.7" cy="901.0" r="3"/><circle cx="520.6" cy="909.9" r="3"/><circle cx="539.5" cy="919.6" r="3"/><circle cx="558.5" cy="913.8" r="3"/><circle cx="577.4" cy="931.1" r="3"/><circle cx="596.3" cy="938.1" r="3"/><circle cx="615.2" cy="973.2" r="3"/><circle cx="634.2" cy="970.9" r="3"/><circle cx="653.1" cy="962.4" r="3"/><circle cx="672.0" cy="967.8" r="3"/><circle cx="691.0" cy="955.5" r="3"/><circle cx="709.9" cy="997.2" r="3"/><circle cx="728.8" cy="966.3" r="3"/><circle cx="747.8" cy="983.3" r="3"/><circle cx="766.7" cy="977.1" r="3"/><circle cx="785.6" cy="977.5" r="3"/><circle cx="804.5" cy="1008.7" r="3"/><circle cx="823.5" cy="953.9" r="3"/><circle cx="842.4" cy="977.5" r="3"/><circle cx="861.3" cy="978.6" r="3"/><circle cx="880.3" cy="972.8" r="3"/><circle cx="899.2" cy="988.3" r="3"/><circle cx="918.1" cy="955.5" r="3"/><circle cx="937.1" cy="989.8" r="3"/><circle cx="956.0" cy="995.6" r="3"/><circle cx="974.9" cy="982.9" r="3"/><circle cx="993.8" cy="1011.0" r="3"/><circle cx="1012.8" cy="1013.0" r="3"/><circle cx="1031.7" cy="1020.7" r="3"/><circle cx="1050.6" cy="1032.7" r="3"/><circle cx="1069.6" cy="1055.1" r="3"/><circle cx="1088.5" cy="1049.3" r="3"/></g>
<polyline fill="none" stroke="#70a850" stroke-width="2.0" stroke-linejoin="round" stroke-linecap="round" points="123.1,1090.6 142.0,1063.9 160.9,1042.7 179.9,1028.0 198.8,1027.6 217.7,987.1 236.6,980.9 255.6,991.0 274.5,962.4 293.4,952.0 312.4,977.1 331.3,960.5 350.2,929.6 369.2,953.9 388.1,938.1 407.0,969.7 425.9,916.1 444.9,942.3 463.8,945.8 482.7,937.3 501.7,1006.0 520.6,988.3 539.5,966.7 558.5,991.8 577.4,1010.7 596.3,1025.3 615.2,1017.2 634.2,1026.5 653.1,1031.9 672.0,1040.0 691.0,1056.6 709.9,1013.8 728.8,1006.4 747.8,1029.6 766.7,1040.8 785.6,1051.6 804.5,1027.6 823.5,1035.8 842.4,1038.8 861.3,1036.5 880.3,1053.9 899.2,1039.2 918.1,1044.6 937.1,1066.2 956.0,1058.5 974.9,1065.1 993.8,1076.7 1012.8,1063.5 1031.7,1077.4 1050.6,1084.8 1069.6,1132.3 1088.5,1120.3"/>
<g fill="#70a850"><circle cx="123.1" cy="1090.6" r="3"/><circle cx="142.0" cy="1063.9" r="3"/><circle cx="160.9" cy="1042.7" r="3"/><circle cx="179.9" cy="1028.0" r="3"/><circle cx="198.8" cy="1027.6" r="3"/><circle cx="217.7" cy="987.1" r="3"/><circle cx="236.6" cy="980.9" r="3"/><circle cx="255.6" cy="991.0" r="3"/><circle cx="274.5" cy="962.4" r="3"/><circle cx="293.4" cy="952.0" r="3"/><circle cx="312.4" cy="977.1" r="3"/><circle cx="331.3" cy="960.5" r="3"/><circle cx="350.2" cy="929.6" r="3"/><circle cx="369.2" cy="953.9" r="3"/><circle cx="388.1" cy="938.1" r="3"/><circle cx="407.0" cy="969.7" r="3"/><circle cx="425.9" cy="916.1" r="3"/><circle cx="444.9" cy="942.3" r="3"/><circle cx="463.8" cy="945.8" r="3"/><circle cx="482.7" cy="937.3" r="3"/><circle cx="501.7" cy="1006.0" r="3"/><circle cx="520.6" cy="988.3" r="3"/><circle cx="539.5" cy="966.7" r="3"/><circle cx="558.5" cy="991.8" r="3"/><circle cx="577.4" cy="1010.7" r="3"/><circle cx="596.3" cy="1025.3" r="3"/><circle cx="615.2" cy="1017.2" r="3"/><circle cx="634.2" cy="1026.5" r="3"/><circle cx="653.1" cy="1031.9" r="3"/><circle cx="672.0" cy="1040.0" r="3"/><circle cx="691.0" cy="1056.6" r="3"/><circle cx="709.9" cy="1013.8" r="3"/><circle cx="728.8" cy="1006.4" r="3"/><circle cx="747.8" cy="1029.6" r="3"/><circle cx="766.7" cy="1040.8" r="3"/><circle cx="785.6" cy="1051.6" r="3"/><circle cx="804.5" cy="1027.6" r="3"/><circle cx="823.5" cy="1035.8" r="3"/><circle cx="842.4" cy="1038.8" r="3"/><circle cx="861.3" cy="1036.5" r="3"/><circle cx="880.3" cy="1053.9" r="3"/><circle cx="899.2" cy="1039.2" r="3"/><circle cx="918.1" cy="1044.6" r="3"/><circle cx="937.1" cy="1066.2" r="3"/><circle cx="956.0" cy="1058.5" r="3"/><circle cx="974.9" cy="1065.1" r="3"/><circle cx="993.8" cy="1076.7" r="3"/><circle cx="1012.8" cy="1063.5" r="3"/><circle cx="1031.7" cy="1077.4" r="3"/><circle cx="1050.6" cy="1084.8" r="3"/><circle cx="1069.6" cy="1132.3" r="3"/><circle cx="1088.5" cy="1120.3" r="3"/></g>
<polyline fill="none" stroke="#5b96c9" stroke-width="2.0" stroke-linejoin="round" stroke-linecap="round" points="123.1,1120.3 142.0,1092.1 160.9,1086.7 179.9,1071.3 198.8,1063.9 217.7,1066.6 236.6,1060.1 255.6,1065.5 274.5,1052.4 293.4,1046.6 312.4,1046.2 331.3,1034.6 350.2,1005.3 369.2,1010.3 388.1,1007.6 407.0,977.5 425.9,959.3 444.9,948.9 463.8,950.4 482.7,942.7 501.7,983.3 520.6,967.8 539.5,981.3 558.5,968.2 577.4,992.1 596.3,1001.0 615.2,1038.8 634.2,999.9 653.1,1004.5 672.0,1021.9 691.0,1020.7 709.9,1035.4 728.8,1025.3 747.8,1031.9 766.7,1031.1 785.6,1063.9 804.5,1046.6 823.5,1023.8 842.4,1031.1 861.3,1045.8 880.3,1065.9 899.2,1058.9 918.1,1048.5 937.1,1066.2 956.0,1062.8 974.9,1074.0 993.8,1069.7 1012.8,1071.3 1031.7,1082.8 1050.6,1084.8 1069.6,1086.3 1088.5,1126.5"/>
<g fill="#5b96c9"><circle cx="123.1" cy="1120.3" r="3"/><circle cx="142.0" cy="1092.1" r="3"/><circle cx="160.9" cy="1086.7" r="3"/><circle cx="179.9" cy="1071.3" r="3"/><circle cx="198.8" cy="1063.9" r="3"/><circle cx="217.7" cy="1066.6" r="3"/><circle cx="236.6" cy="1060.1" r="3"/><circle cx="255.6" cy="1065.5" r="3"/><circle cx="274.5" cy="1052.4" r="3"/><circle cx="293.4" cy="1046.6" r="3"/><circle cx="312.4" cy="1046.2" r="3"/><circle cx="331.3" cy="1034.6" r="3"/><circle cx="350.2" cy="1005.3" r="3"/><circle cx="369.2" cy="1010.3" r="3"/><circle cx="388.1" cy="1007.6" r="3"/><circle cx="407.0" cy="977.5" r="3"/><circle cx="425.9" cy="959.3" r="3"/><circle cx="444.9" cy="948.9" r="3"/><circle cx="463.8" cy="950.4" r="3"/><circle cx="482.7" cy="942.7" r="3"/><circle cx="501.7" cy="983.3" r="3"/><circle cx="520.6" cy="967.8" r="3"/><circle cx="539.5" cy="981.3" r="3"/><circle cx="558.5" cy="968.2" r="3"/><circle cx="577.4" cy="992.1" r="3"/><circle cx="596.3" cy="1001.0" r="3"/><circle cx="615.2" cy="1038.8" r="3"/><circle cx="634.2" cy="999.9" r="3"/><circle cx="653.1" cy="1004.5" r="3"/><circle cx="672.0" cy="1021.9" r="3"/><circle cx="691.0" cy="1020.7" r="3"/><circle cx="709.9" cy="1035.4" r="3"/><circle cx="728.8" cy="1025.3" r="3"/><circle cx="747.8" cy="1031.9" r="3"/><circle cx="766.7" cy="1031.1" r="3"/><circle cx="785.6" cy="1063.9" r="3"/><circle cx="804.5" cy="1046.6" r="3"/><circle cx="823.5" cy="1023.8" r="3"/><circle cx="842.4" cy="1031.1" r="3"/><circle cx="861.3" cy="1045.8" r="3"/><circle cx="880.3" cy="1065.9" r="3"/><circle cx="899.2" cy="1058.9" r="3"/><circle cx="918.1" cy="1048.5" r="3"/><circle cx="937.1" cy="1066.2" r="3"/><circle cx="956.0" cy="1062.8" r="3"/><circle cx="974.9" cy="1074.0" r="3"/><circle cx="993.8" cy="1069.7" r="3"/><circle cx="1012.8" cy="1071.3" r="3"/><circle cx="1031.7" cy="1082.8" r="3"/><circle cx="1050.6" cy="1084.8" r="3"/><circle cx="1069.6" cy="1086.3" r="3"/><circle cx="1088.5" cy="1126.5" r="3"/></g>
<polyline fill="none" stroke="#f5c82a" stroke-width="2.4" stroke-linejoin="round" stroke-linecap="round" points="123.1,1109.1 142.0,1089.4 160.9,1080.1 179.9,1053.5 198.8,1061.6 217.7,1047.3 236.6,1039.2 255.6,1057.0 274.5,1037.3 293.4,1018.8 312.4,1024.6 331.3,1023.0 350.2,1002.6 369.2,1011.0 388.1,972.8 407.0,974.0 425.9,976.3 444.9,972.8 463.8,970.9 482.7,965.1 501.7,1001.8 520.6,958.9 539.5,972.4 558.5,964.3 577.4,977.5 596.3,978.6 615.2,1031.5 634.2,994.5 653.1,1024.6 672.0,997.5 691.0,1011.4"/>
<g fill="#f5c82a"><circle cx="123.1" cy="1109.1" r="3"/><circle cx="142.0" cy="1089.4" r="3"/><circle cx="160.9" cy="1080.1" r="3"/><circle cx="179.9" cy="1053.5" r="3"/><circle cx="198.8" cy="1061.6" r="3"/><circle cx="217.7" cy="1047.3" r="3"/><circle cx="236.6" cy="1039.2" r="3"/><circle cx="255.6" cy="1057.0" r="3"/><circle cx="274.5" cy="1037.3" r="3"/><circle cx="293.4" cy="1018.8" r="3"/><circle cx="312.4" cy="1024.6" r="3"/><circle cx="331.3" cy="1023.0" r="3"/><circle cx="350.2" cy="1002.6" r="3"/><circle cx="369.2" cy="1011.0" r="3"/><circle cx="388.1" cy="972.8" r="3"/><circle cx="407.0" cy="974.0" r="3"/><circle cx="425.9" cy="976.3" r="3"/><circle cx="444.9" cy="972.8" r="3"/><circle cx="463.8" cy="970.9" r="3"/><circle cx="482.7" cy="965.1" r="3"/><circle cx="501.7" cy="1001.8" r="3"/><circle cx="520.6" cy="958.9" r="3"/><circle cx="539.5" cy="972.4" r="3"/><circle cx="558.5" cy="964.3" r="3"/><circle cx="577.4" cy="977.5" r="3"/><circle cx="596.3" cy="978.6" r="3"/><circle cx="615.2" cy="1031.5" r="3"/><circle cx="634.2" cy="994.5" r="3"/><circle cx="653.1" cy="1024.6" r="3"/><circle cx="672.0" cy="997.5" r="3"/><circle cx="691.0" cy="1011.4" r="3"/></g>
<g transform="translate(-43.4,615.2) scale(1.173,1.092)">
<path d="M207.3 528.2 L189.5 551.5 L193.9 551.5 L193.9 561 L195.8 561 L195.8 550.3 L209.4 532.5 L223.9 552.2 L224.8 551.8 Z" fill="#1c1c1c"/>
<path d="M195 537.4 H198.3 V544 L195 548 Z" fill="#1c1c1c"/>
<path transform="translate(185.38,539.7) scale(0.00492,0.0052)" d="M 4800,300 l -327,610 c -37,66 -104,60 -170,23 l -237,-123 177,937 c 37,171 -82,171 -141,97 l -413,-463 -67,235 c -8,31 -42,63 -93,56 l -523,-110 137,499 c 29,111 52,157 -30,186 l -186,88 900,731 c 36,28 54,78 41,123 l -79,258 c 310,-36 588,-89 898,-123 27,-3 73,42 73,74 l -41,947 h 151 l -24,-945 c 0,-32 42,-79 69,-76 310,34 588,87 898,123 l -79,-258 c -13,-45 5,-95 41,-123 l 900,-731 -186,-88 c -82,-29 -59,-75 -30,-186 l 137,-499 -523,110 c -51,7 -85,-25 -93,-56 l -67,-235 -413,463 c -59,74 -178,74 -141,-97 l 177,-937 -237,123 c -66,37 -133,43 -170,-23 z" fill="#1b86c9"/>
<rect x="189.5" y="561" width="35.2" height="7" fill="#2b86b8"/>
<text x="207.1" y="566.9" font-size="6.4" font-weight="bold" fill="#fff" text-anchor="middle" textLength="32.5" lengthAdjust="spacingAndGlyphs" font-family="Liberation Serif, serif">OTTAWA</text>
<text x="207.1" y="571.6" font-size="3" font-weight="bold" fill="#4b8cb0" text-anchor="middle" textLength="35" lengthAdjust="spacingAndGlyphs">REAL ESTATE BOARD</text>
</g>
<text x="584" y="1218.3" font-size="7.8" fill="#262626" text-anchor="middle" textLength="678" lengthAdjust="spacingAndGlyphs">Disclaimer: Statistical data provided by the Ottawa Real Estate Board is for informational purposes only and subject to change without prior notice. Although every reasonable effort is made to</text>
<text x="584.8" y="1229.0" font-size="7.8" fill="#262626" text-anchor="middle" textLength="698" lengthAdjust="spacingAndGlyphs">present current and accurate information for public use, the Ottawa Real Estate Board does not make any guarantees about the content, accuracy, or timeliness of the information presented above.</text>
</svg></body></html>
